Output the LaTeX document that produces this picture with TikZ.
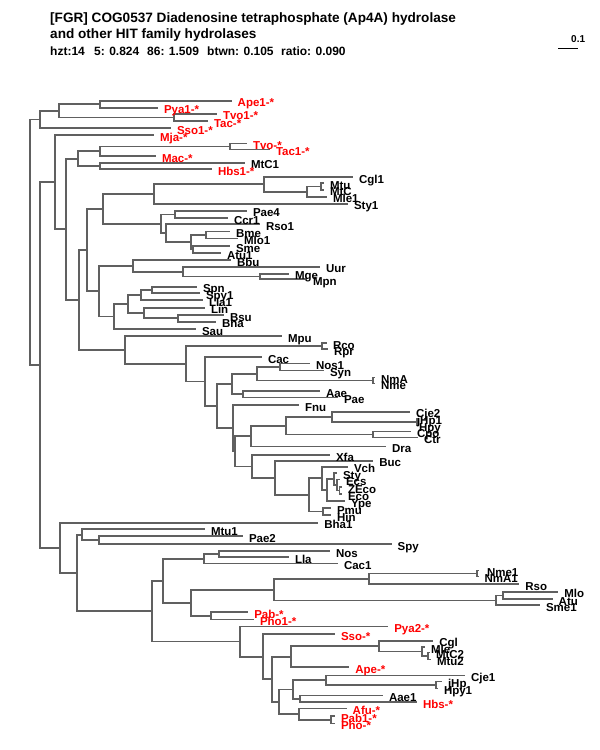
\documentclass[tikz,border=0pt]{standalone}
\usepackage{fontspec}
\setmainfont{Liberation Sans}
\definecolor{lg}{RGB}{96,96,96}
\definecolor{lr}{RGB}{255,0,0}
\begin{document}
\begin{tikzpicture}[x=1pt,y=-1pt,
  br/.style={draw=lg,line width=1.8pt},
  lb/.style={anchor=base west,inner sep=0pt,outer sep=0pt,font=\fontsize{11.5}{12}\selectfont\bfseries,xshift=6pt,yshift=-6pt},
  rl/.style={lb,text=lr},
  hd/.style={anchor=base west,inner sep=0pt,font=\fontsize{13.6}{15}\selectfont\bfseries},
  hs/.style={anchor=base west,inner sep=0pt,font=\fontsize{12}{14}\selectfont\bfseries}]
\fill[white] (0,0) rectangle (600,750);
\useasboundingbox (0,0) rectangle (600,750);
% header
\node[hd] (h1) at (50,22) {[FGR] COG0537 Diadenosine tetraphosphate (Ap4A) hydrolase};
\node[hd] (h2) at (50,38.5) {and other HIT family hydrolases};
\node[hs] (h3a) at (50,55) {hzt:14};
\node[hs] (h3b) at (94,55) {5: 0.824};
\node[hs] (h3c) at (147,55) {86: 1.509};
\node[hs] (h3d) at (207,55) {btwn: 0.105};
\node[hs] (h3e) at (281,55) {ratio: 0.090};
\node[anchor=base west,inner sep=0pt,font=\fontsize{10}{11}\selectfont\bfseries] (sc) at (571,42) {0.1};
\coordinate (sbl) at (558,48);
\coordinate (sbr) at (578,48);
\draw[line width=1pt] (sbl) -- (sbr);
% internal nodes
\coordinate (R0) at (30,242.3);
\coordinate (T4) at (40,119.55);
\coordinate (T3) at (59,110.8);
\coordinate (T1) at (100,104.2);
\coordinate (T2) at (174,117.4);
\coordinate (A) at (40,365);
\coordinate (B) at (55,182.15);
\coordinate (C) at (66,229.3);
\coordinate (C1) at (78,158.6);
\coordinate (C1a) at (100,151.25);
\coordinate (C1aa) at (230,146.5);
\coordinate (C1b) at (100,166);
\coordinate (D) at (79,300);
\coordinate (E) at (87,250.05);
\coordinate (G) at (103,208.95);
\coordinate (G1) at (154,194);
\coordinate (G1a) at (264,184.3);
\coordinate (G1b) at (307,191.6);
\coordinate (G1c) at (321,186.5);
\coordinate (G2) at (160.7,223.9);
\coordinate (G2a) at (175,214.5);
\coordinate (G2b) at (165.7,233.3);
\coordinate (G2c) at (190.7,242.25);
\coordinate (G2d) at (206,235);
\coordinate (G2e) at (192.7,249.5);
\coordinate (H) at (99,291.15);
\coordinate (H1) at (132.7,265.8);
\coordinate (H1a) at (182.7,271.6);
\coordinate (H1b) at (260,276.5);
\coordinate (H2) at (114,316.5);
\coordinate (H2a) at (127.7,304);
\coordinate (H2b) at (140.7,295);
\coordinate (H2d) at (151.7,290);
\coordinate (H2c) at (144,313);
\coordinate (H2e) at (178.3,318.35);
\coordinate (F) at (125,349.95);
\coordinate (F1) at (185.7,363.9);
\coordinate (F2) at (321.7,346.3);
\coordinate (F3) at (205,381.5);
\coordinate (F4) at (216.7,406.05);
\coordinate (F5) at (231.7,384);
\coordinate (F6) at (256.7,373.75);
\coordinate (F8) at (280,367);
\coordinate (F9) at (372.7,380.5);
\coordinate (F7) at (243.3,394.25);
\coordinate (P) at (233.3,428.1);
\coordinate (Q) at (235,451.25);
\coordinate (R) at (250.7,436.1);
\coordinate (R1) at (286,425.7);
\coordinate (R2) at (331.7,416.85);
\coordinate (R4) at (416.7,422);
\coordinate (R3) at (372.7,434.5);
\coordinate (S) at (251.7,466.4);
\coordinate (T) at (275,477.8);
\coordinate (U) at (309.3,494.9);
\coordinate (V1) at (321.7,478.35);
\coordinate (W) at (326.7,490);
\coordinate (X) at (334,479);
\coordinate (Y) at (337,485);
\coordinate (Z) at (339.5,490.5);
\coordinate (PH) at (323.3,511.5);
\coordinate (Bot) at (60,547.8);
\coordinate (K) at (77.3,572.9);
\coordinate (K1) at (81.7,534.65);
\coordinate (K1a) at (99.3,540);
\coordinate (K2) at (151.7,611.1);
\coordinate (K3) at (163.3,580.7);
\coordinate (K5) at (204,558.75);
\coordinate (K7) at (219,554);
\coordinate (K6) at (190.7,602.7);
\coordinate (K8) at (274,589.65);
\coordinate (K10) at (369.3,578.9);
\coordinate (K12) at (476.7,573.5);
\coordinate (K11) at (496,600.4);
\coordinate (K13) at (503.3,595.5);
\coordinate (K9) at (210.7,615.75);
\coordinate (K4) at (240,641.55);
\coordinate (K14) at (263.3,656.6);
\coordinate (K15) at (271.7,679.25);
\coordinate (K16) at (290.7,656.7);
\coordinate (K18) at (379,646.1);
\coordinate (K19) at (421.7,651.5);
\coordinate (K20) at (428.3,656);
\coordinate (K17) at (279.3,701.8);
\coordinate (K21) at (292.7,689.5);
\coordinate (K23) at (326,680.25);
\coordinate (K25) at (436,685);
\coordinate (K24) at (300,698.75);
\coordinate (K22) at (299.3,714.1);
\coordinate (K26) at (331,719.75);
% leaves
\coordinate (Ape1) at (231.7,100.7);
\coordinate (Pya1) at (158,107.7);
\coordinate (Tvo1) at (217,113.8);
\coordinate (Tac) at (208,121);
\coordinate (Sso1) at (171,128.3);
\coordinate (Mja) at (154,135);
\coordinate (Tvo) at (247,143.5);
\coordinate (Tac1) at (270,149.5);
\coordinate (Mac) at (156,156);
\coordinate (MtC1) at (245,162.7);
\coordinate (Hbs1) at (212,169.3);
\coordinate (Cgl1) at (353,177);
\coordinate (Mtu) at (324,183.3);
\coordinate (MtC) at (324,189.7);
\coordinate (Mle1) at (327,196.7);
\coordinate (Sty1) at (348,203.7);
\coordinate (Pae4) at (247,210.7);
\coordinate (Ccr1) at (228,218.3);
\coordinate (Rso1) at (260,224.3);
\coordinate (Bme) at (230,231.5);
\coordinate (Mlo1) at (238,238.5);
\coordinate (Sme) at (230,246);
\coordinate (Atu1) at (221,253);
\coordinate (Bbu) at (231,260);
\coordinate (Uur) at (320,266.7);
\coordinate (Mge) at (289,273.7);
\coordinate (Mpn) at (307,279.3);
\coordinate (Spn) at (197,286.7);
\coordinate (Spy1) at (200,293.3);
\coordinate (Lla1) at (203,300);
\coordinate (Lin) at (205,307.7);
\coordinate (Bsu) at (224,315);
\coordinate (Bha) at (216,321.7);
\coordinate (Sau) at (196,329);
\coordinate (Mpu) at (282,336);
\coordinate (Rco) at (327,343.3);
\coordinate (Rpr) at (328,349.3);
\coordinate (Cac) at (262,357);
\coordinate (Nos1) at (310,363.5);
\coordinate (Syn) at (324,370.5);
\coordinate (NmA) at (375,377.5);
\coordinate (Nme) at (375,383.5);
\coordinate (Aae) at (320,391);
\coordinate (Pae) at (338,397.5);
\coordinate (Fnu) at (299,405);
\coordinate (Cje2) at (410,411.7);
\coordinate (jHp1) at (418,418.5);
\coordinate (Hpy) at (418,425.5);
\coordinate (Cpo) at (411,431.5);
\coordinate (Ctr) at (418,437.5);
\coordinate (Dra) at (386,446.5);
\coordinate (Xfa) at (330,455);
\coordinate (Buc) at (373.3,460.7);
\coordinate (Vch) at (348,466.7);
\coordinate (Sty) at (337,473);
\coordinate (Ecs) at (340,479.5);
\coordinate (ZEco) at (342,487);
\coordinate (Eco) at (342,494);
\coordinate (Ype) at (345,501);
\coordinate (Pmu) at (331,508);
\coordinate (Hin) at (331,515);
\coordinate (Bha1) at (318.3,522.7);
\coordinate (Mtu1) at (205,529.3);
\coordinate (Pae2) at (243,536);
\coordinate (Spy) at (391.7,544);
\coordinate (Nos) at (330,551);
\coordinate (Lla) at (289,557);
\coordinate (Cac1) at (338,563.5);
\coordinate (Nme1) at (478.5,570.5);
\coordinate (NmA1) at (478.5,576.5);
\coordinate (Rso) at (519.3,584.3);
\coordinate (Mlo) at (558.3,591.7);
\coordinate (Atu) at (552.7,599.3);
\coordinate (Sme1) at (540,605.3);
\coordinate (Pab) at (248.3,612);
\coordinate (Pho1) at (254,619.5);
\coordinate (Pya2) at (388.3,626.5);
\coordinate (Sso) at (335,634);
\coordinate (Cgl) at (433.3,640.7);
\coordinate (Mle) at (425,647);
\coordinate (MtC2) at (430,652.5);
\coordinate (Mtu2) at (431,659.5);
\coordinate (Ape) at (349.3,667.3);
\coordinate (Cje1) at (465,675.5);
\coordinate (jHp) at (442,681.5);
\coordinate (Hpy1) at (438,688.5);
\coordinate (Aae1) at (383,695.5);
\coordinate (Hbs) at (417,702);
\coordinate (Afu) at (346.7,708.5);
\coordinate (Pab1) at (335,716);
\coordinate (Pho) at (335,723.5);
% branches
\foreach \p/\c in {R0/T4,R0/A,T4/T3,T4/Sso1,T3/T1,T3/T2,T1/Ape1,T1/Pya1,T2/Tvo1,T2/Tac,
  A/B,A/Bot,B/Mja,B/C,C/C1,C/D,C1/C1a,C1/C1b,C1a/C1aa,C1a/Mac,C1aa/Tvo,C1aa/Tac1,C1b/MtC1,C1b/Hbs1,
  D/E,D/F,E/G,E/H,G/G1,G/G2,G1/G1a,G1/Sty1,G1a/Cgl1,G1a/G1b,G1b/G1c,G1b/Mle1,G1c/Mtu,G1c/MtC,
  G2/G2a,G2/G2b,G2a/Pae4,G2a/Ccr1,G2b/Rso1,G2b/G2c,G2c/G2d,G2c/G2e,G2d/Bme,G2d/Mlo1,G2e/Sme,G2e/Atu1,
  H/H1,H/H2,H1/Bbu,H1/H1a,H1a/Uur,H1a/H1b,H1b/Mge,H1b/Mpn,H2/H2a,H2/Sau,H2a/H2b,H2a/H2c,H2b/H2d,H2b/Lla1,
  H2d/Spn,H2d/Spy1,H2c/Lin,H2c/H2e,H2e/Bsu,H2e/Bha,
  F/Mpu,F/F1,F1/F2,F1/F3,F2/Rco,F2/Rpr,F3/Cac,F3/F4,F4/F5,F4/P,F5/F6,F5/F7,F6/F8,F6/F9,F8/Nos1,F8/Syn,
  F9/NmA,F9/Nme,F7/Aae,F7/Pae,P/Fnu,P/Q,Q/R,Q/S,R/R1,R/Dra,R1/R2,R1/R3,R2/Cje2,R2/R4,R4/jHp1,R4/Hpy,
  R3/Cpo,R3/Ctr,S/Xfa,S/T,T/Buc,T/U,U/V1,U/PH,V1/Vch,V1/W,W/X,W/Ype,X/Sty,X/Y,Y/Ecs,Y/Z,Z/ZEco,Z/Eco,
  PH/Pmu,PH/Hin,
  Bot/Bha1,Bot/K,K/K1,K/K2,K1/Mtu1,K1/K1a,K1a/Pae2,K1a/Spy,K2/K3,K2/K4,K3/K5,K3/K6,K5/K7,K5/Cac1,
  K7/Nos,K7/Lla,K6/K8,K6/K9,K8/K10,K8/K11,K10/K12,K10/Rso,K12/Nme1,K12/NmA1,K11/K13,K11/Sme1,
  K13/Mlo,K13/Atu,K9/Pab,K9/Pho1,K4/Pya2,K4/K14,K14/Sso,K14/K15,K15/K16,K15/K17,K16/K18,K16/Ape,
  K18/Cgl,K18/K19,K19/Mle,K19/K20,K20/MtC2,K20/Mtu2,K17/K21,K17/K22,K21/K23,K21/K24,K23/Cje1,K23/K25,
  K25/jHp,K25/Hpy1,K24/Aae1,K24/Hbs,K22/Afu,K22/K26,K26/Pab1,K26/Pho}
  \draw[br] (\p) |- (\c);
% labels
\node[rl] (tApe1) at (Ape1) {Ape1-*};
\node[rl] (tPya1) at (Pya1) {Pya1-*};
\node[rl] (tTvo1) at (Tvo1) {Tvo1-*};
\node[rl] (tTac) at (Tac) {Tac-*};
\node[rl] (tSso1) at (Sso1) {Sso1-*};
\node[rl] (tMja) at (Mja) {Mja-*};
\node[rl] (tTvo) at (Tvo) {Tvo-*};
\node[rl] (tTac1) at (Tac1) {Tac1-*};
\node[rl] (tMac) at (Mac) {Mac-*};
\node[lb] (tMtC1) at (MtC1) {MtC1};
\node[rl] (tHbs1) at (Hbs1) {Hbs1-*};
\node[lb] (tCgl1) at (Cgl1) {Cgl1};
\node[lb] (tMtu) at (Mtu) {Mtu};
\node[lb] (tMtC) at (MtC) {MtC};
\node[lb] (tMle1) at (Mle1) {Mle1};
\node[lb] (tSty1) at (Sty1) {Sty1};
\node[lb] (tPae4) at (Pae4) {Pae4};
\node[lb] (tCcr1) at (Ccr1) {Ccr1};
\node[lb] (tRso1) at (Rso1) {Rso1};
\node[lb] (tBme) at (Bme) {Bme};
\node[lb] (tMlo1) at (Mlo1) {Mlo1};
\node[lb] (tSme) at (Sme) {Sme};
\node[lb] (tAtu1) at (Atu1) {Atu1};
\node[lb] (tBbu) at (Bbu) {Bbu};
\node[lb] (tUur) at (Uur) {Uur};
\node[lb] (tMge) at (Mge) {Mge};
\node[lb] (tMpn) at (Mpn) {Mpn};
\node[lb] (tSpn) at (Spn) {Spn};
\node[lb] (tSpy1) at (Spy1) {Spy1};
\node[lb] (tLla1) at (Lla1) {Lla1};
\node[lb] (tLin) at (Lin) {Lin};
\node[lb] (tBsu) at (Bsu) {Bsu};
\node[lb] (tBha) at (Bha) {Bha};
\node[lb] (tSau) at (Sau) {Sau};
\node[lb] (tMpu) at (Mpu) {Mpu};
\node[lb] (tRco) at (Rco) {Rco};
\node[lb] (tRpr) at (Rpr) {Rpr};
\node[lb] (tCac) at (Cac) {Cac};
\node[lb] (tNos1) at (Nos1) {Nos1};
\node[lb] (tSyn) at (Syn) {Syn};
\node[lb] (tNmA) at (NmA) {NmA};
\node[lb] (tNme) at (Nme) {Nme};
\node[lb] (tAae) at (Aae) {Aae};
\node[lb] (tPae) at (Pae) {Pae};
\node[lb] (tFnu) at (Fnu) {Fnu};
\node[lb] (tCje2) at (Cje2) {Cje2};
\node[lb,xshift=-7pt] (tjHp1) at (jHp1) {jHp1};
\node[lb,xshift=-5pt] (tHpy) at (Hpy) {Hpy};
\node[lb] (tCpo) at (Cpo) {Cpo};
\node[lb] (tCtr) at (Ctr) {Ctr};
\node[lb] (tDra) at (Dra) {Dra};
\node[lb] (tXfa) at (Xfa) {Xfa};
\node[lb] (tBuc) at (Buc) {Buc};
\node[lb] (tVch) at (Vch) {Vch};
\node[lb] (tSty) at (Sty) {Sty};
\node[lb] (tEcs) at (Ecs) {Ecs};
\node[lb] (tZEco) at (ZEco) {ZEco};
\node[lb] (tEco) at (Eco) {Eco};
\node[lb] (tYpe) at (Ype) {Ype};
\node[lb] (tPmu) at (Pmu) {Pmu};
\node[lb] (tHin) at (Hin) {Hin};
\node[lb] (tBha1) at (Bha1) {Bha1};
\node[lb] (tMtu1) at (Mtu1) {Mtu1};
\node[lb] (tPae2) at (Pae2) {Pae2};
\node[lb] (tSpy) at (Spy) {Spy};
\node[lb] (tNos) at (Nos) {Nos};
\node[lb] (tLla) at (Lla) {Lla};
\node[lb] (tCac1) at (Cac1) {Cac1};
\node[lb,xshift=2.5pt] (tNme1) at (Nme1) {Nme1};
\node[lb] (tNmA1) at (NmA1) {NmA1};
\node[lb] (tRso) at (Rso) {Rso};
\node[lb] (tMlo) at (Mlo) {Mlo};
\node[lb] (tAtu) at (Atu) {Atu};
\node[lb] (tSme1) at (Sme1) {Sme1};
\node[rl] (tPab) at (Pab) {Pab-*};
\node[rl] (tPho1) at (Pho1) {Pho1-*};
\node[rl] (tPya2) at (Pya2) {Pya2-*};
\node[rl] (tSso) at (Sso) {Sso-*};
\node[lb] (tCgl) at (Cgl) {Cgl};
\node[lb] (tMle) at (Mle) {Mle};
\node[lb] (tMtC2) at (MtC2) {MtC2};
\node[lb] (tMtu2) at (Mtu2) {Mtu2};
\node[rl] (tApe) at (Ape) {Ape-*};
\node[lb] (tCje1) at (Cje1) {Cje1};
\node[lb] (tjHp) at (jHp) {jHp};
\node[lb] (tHpy1) at (Hpy1) {Hpy1};
\node[lb] (tAae1) at (Aae1) {Aae1};
\node[rl] (tHbs) at (Hbs) {Hbs-*};
\node[rl] (tAfu) at (Afu) {Afu-*};
\node[rl] (tPab1) at (Pab1) {Pab1-*};
\node[rl] (tPho) at (Pho) {Pho-*};
\end{tikzpicture}
\end{document}
